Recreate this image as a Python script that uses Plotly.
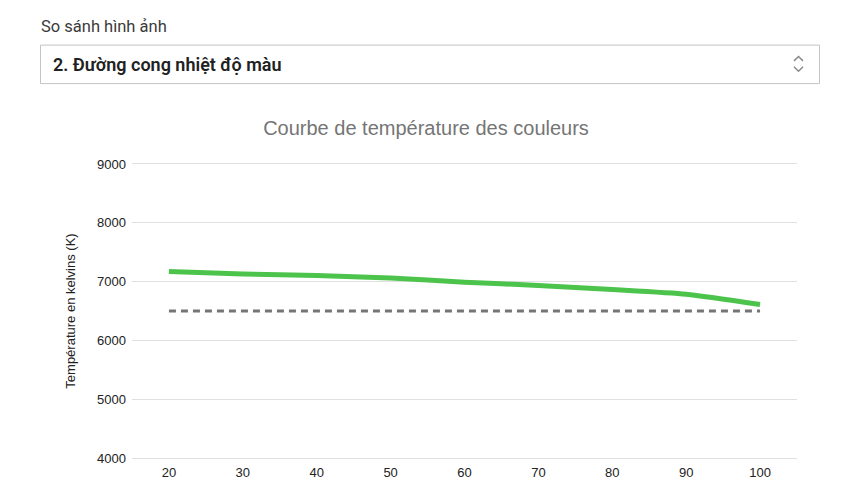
import plotly.graph_objects as go

# Data
brightness = [20, 30, 40, 50, 60, 70, 80, 90, 100]
temperature_k = [7170, 7130, 7105, 7060, 6990, 6935, 6865, 6785, 6610]
target_k = [6500, 6500, 6500, 6500, 6500, 6500, 6500, 6500, 6500]
x_ticks = [20, 30, 40, 50, 60, 70, 80, 90, 100]
y_ticks = [4000, 5000, 6000, 7000, 8000, 9000]

# page has an 8px body margin, so the figure is offset by 8px
OFF = 8
W, H = 864 - OFF, 492 - OFF
PLOT_X0, PLOT_X1, PLOT_Y0, PLOT_Y1 = 132, 797, 164, 462  # page coords
L = PLOT_X0 - OFF
T = PLOT_Y0 - OFF
PW = PLOT_X1 - PLOT_X0
PH = PLOT_Y1 - PLOT_Y0
R = W - L - PW
B = H - T - PH


def px(x):
    return (x - PLOT_X0) / PW


def py(y):
    return (PLOT_Y1 - y) / PH


fig = go.Figure()
fig.add_trace(go.Scatter(
    x=brightness, y=target_k, mode="lines",
    line=dict(color="#757575", width=3, dash="7px,5px"),
    hoverinfo="skip", showlegend=False))
fig.add_trace(go.Scatter(
    x=brightness, y=temperature_k, mode="lines",
    line=dict(color="#4CC44C", width=5, shape="spline", smoothing=0.6),
    showlegend=False))

shapes = [
    dict(type="rect", xref="paper", yref="paper",
         x0=px(40.5), x1=px(819.5), y0=py(82.5), y1=py(43.5),
         line=dict(color="#C4C4C4", width=1), fillcolor="white", layer="below"),
    dict(type="path", xref="paper", yref="paper",
         path=f"M {px(794)} {py(59.5)} L {px(798.5)} {py(55)} L {px(803)} {py(59.5)}",
         line=dict(color="#8a8a8a", width=1.5)),
    dict(type="path", xref="paper", yref="paper",
         path=f"M {px(794)} {py(65.5)} L {px(798.5)} {py(70)} L {px(803)} {py(65.5)}",
         line=dict(color="#8a8a8a", width=1.5)),
]

annotations = [
    dict(text="So sánh hình ảnh", xref="paper", yref="paper",
         x=px(39), y=py(25), xanchor="left", yanchor="middle", showarrow=False,
         font=dict(family="Roboto", size=16.5, color="#3a3a3a")),
    dict(text="2. Đường cong nhiệt độ màu", xref="paper", yref="paper",
         x=px(50.5), y=py(63), xanchor="left", yanchor="middle", showarrow=False,
         font=dict(family="Roboto", size=18, color="#212121", weight=600)),
]

fig.update_layout(
    width=W, height=H, autosize=False,
    margin=dict(l=L, r=R, t=T, b=B),
    paper_bgcolor="white", plot_bgcolor="white",
    font=dict(family="Arial, Liberation Sans, sans-serif", size=13, color="#222222"),
    title=dict(text="Courbe de température des couleurs", x=(426 - OFF) / W, xref="container",
               xanchor="center", y=1 - (128 - OFF) / H, yanchor="middle",
               font=dict(family="Arial, Liberation Sans, sans-serif", size=20, color="#757575")),
    xaxis=dict(range=[15, 105], tickvals=x_ticks, showgrid=False, zeroline=False,
               showline=True, mirror=True, linecolor="#E0E0E0", linewidth=1,
               ticks="", ticklabelstandoff=2,
               tickfont=dict(size=13, color="#222222")),
    yaxis=dict(range=[4000, 9000], tickvals=y_ticks, showgrid=True, gridcolor="#E0E0E0",
               gridwidth=1, zeroline=False, showline=False, ticks="",
               ticklabelstandoff=5,
               tickfont=dict(size=13, color="#222222"),
               title=dict(text="Température en kelvins (K)", standoff=18,
                          font=dict(size=13, color="#222222"))),
    shapes=shapes, annotations=annotations,
    hovermode="closest",
)

fig.write_html("out.html")
